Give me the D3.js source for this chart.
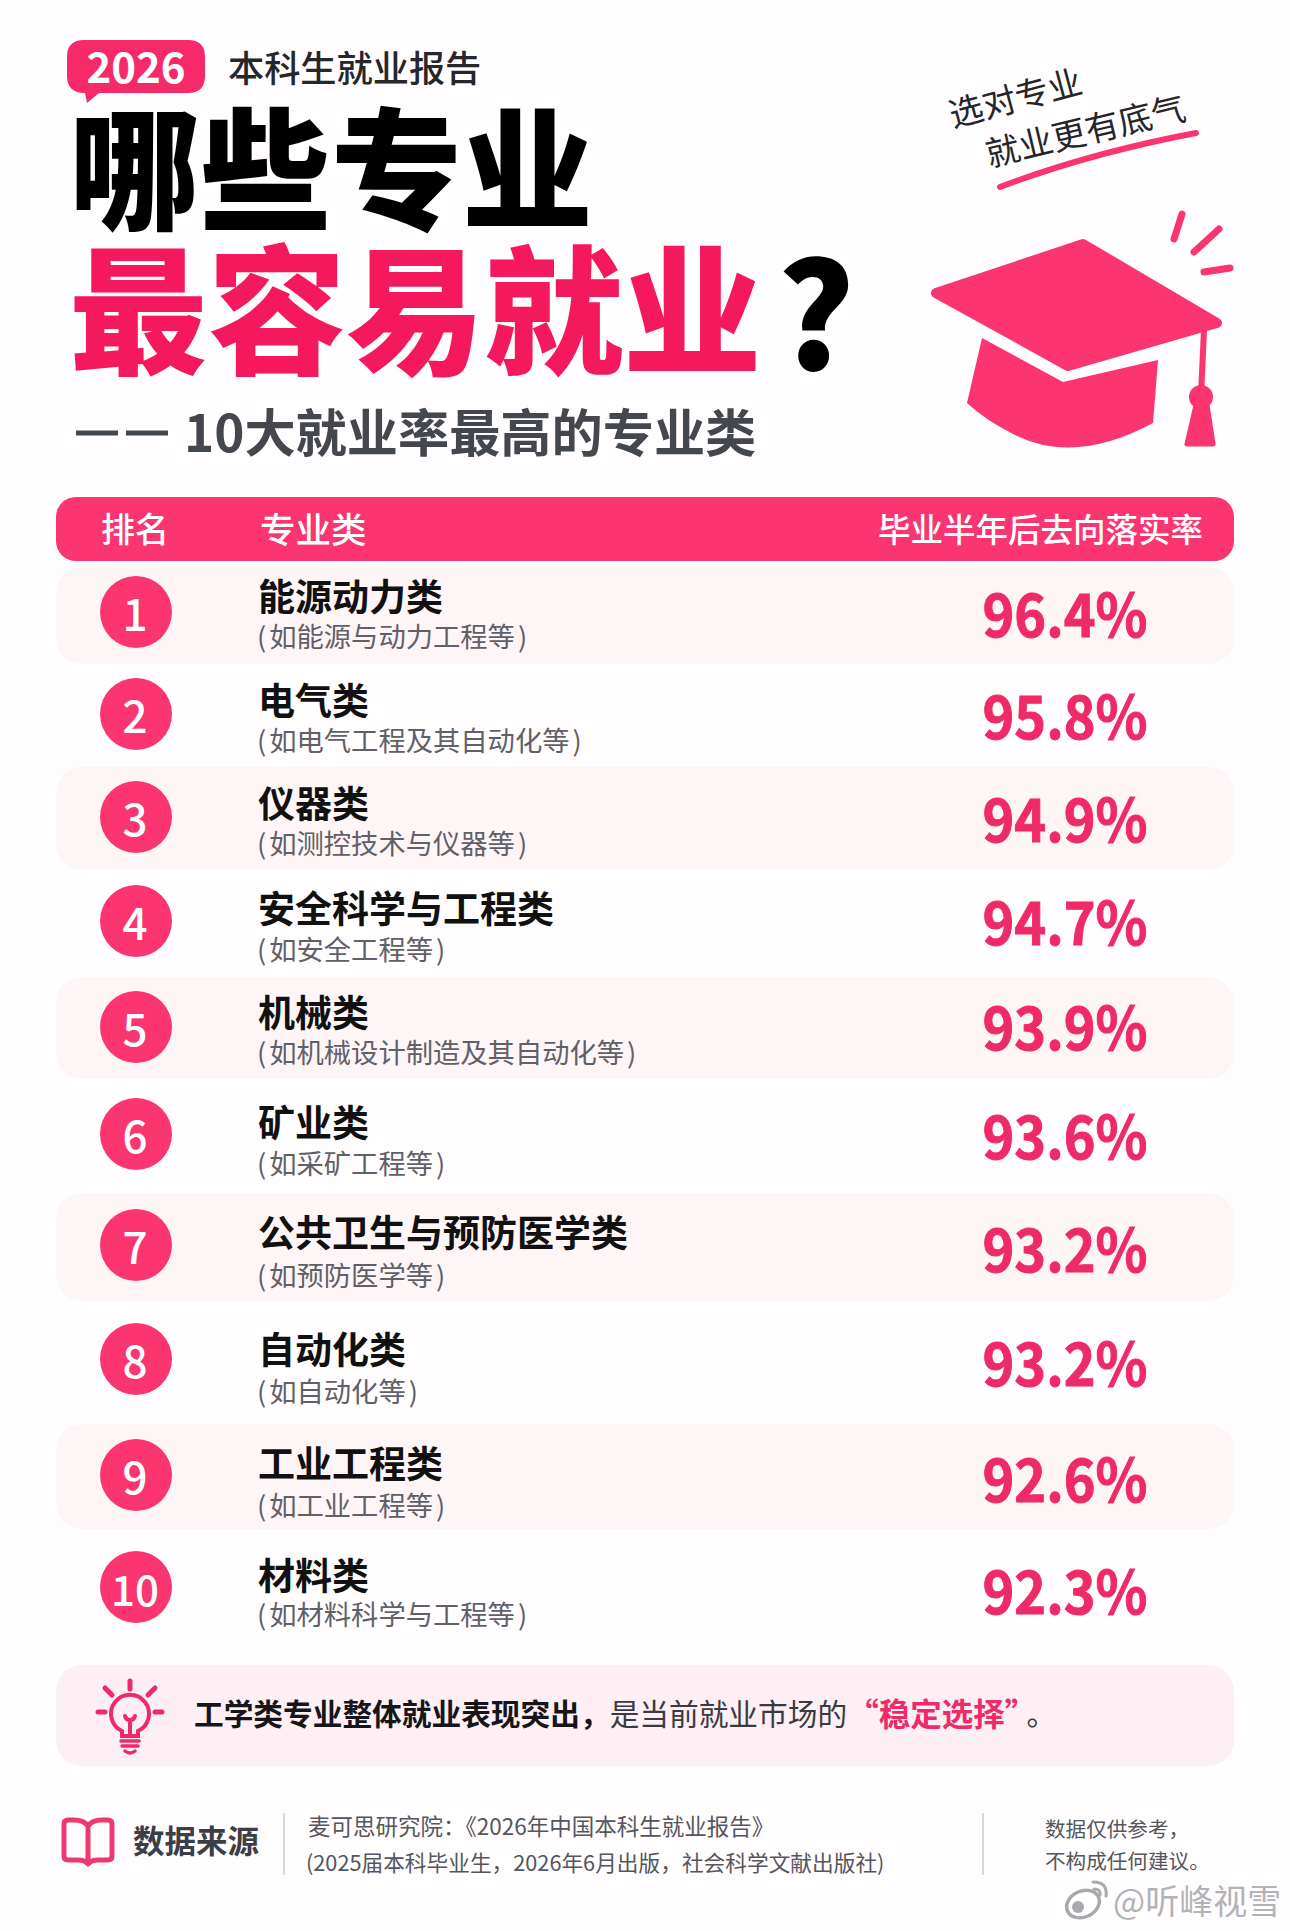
<!DOCTYPE html>
<html>
<head>
<meta charset="utf-8">
<script src="https://cdn.jsdelivr.net/npm/d3@7"></script>
<style>
  html, body { margin: 0; padding: 0; background: #fffdfd; }
  svg { display: block; }
  text { font-family: "Noto Sans CJK SC", "Noto Sans", sans-serif; }
</style>
</head>
<body>
<svg id="chart"></svg>
<script>
// values
const ranks = [1, 2, 3, 4, 5, 6, 7, 8, 9, 10];
const majors = ["能源动力类", "电气类", "仪器类", "安全科学与工程类", "机械类", "矿业类", "公共卫生与预防医学类", "自动化类", "工业工程类", "材料类"];
const examples = ["如能源与动力工程等", "如电气工程及其自动化等", "如测控技术与仪器等", "如安全工程等", "如机械设计制造及其自动化等", "如采矿工程等", "如预防医学等", "如自动化等", "如工业工程等", "如材料科学与工程等"];
const rates = [96.4, 95.8, 94.9, 94.7, 93.9, 93.6, 93.2, 93.2, 92.6, 92.3];
const columnLabels = ["排名", "专业类", "毕业半年后去向落实率"];

const width = 1290;
const height = 1931;
const pink = "#fa3570";
const rose = "#ee2a68";

const svg = d3.select("#chart").attr("width", width).attr("height", height).attr("viewBox", [0, 0, width, height]);

// rows are not evenly spaced in the original, so ordinal scales hold the positions
const y = d3.scaleOrdinal().domain(ranks).range([612, 714, 817, 921, 1027, 1134, 1245, 1359, 1475, 1587]);
const nameY = d3.scaleOrdinal().domain(ranks).range([595, 699, 802, 907, 1011, 1121, 1231, 1348, 1462, 1574]);
const subY = d3.scaleOrdinal().domain(ranks).range([635, 739, 842, 948, 1051, 1162, 1274, 1390, 1504, 1613]);
const rateY = d3.scaleOrdinal().domain(ranks).range([611, 713, 816, 919, 1024, 1133, 1246, 1360, 1476, 1588]);
const bandTop = d3.scaleOrdinal().domain(ranks).range([567, 0, 767, 0, 977, 0, 1193, 0, 1424, 0]);
const bandHeight = d3.scaleOrdinal().domain(ranks).range([97, 0, 103, 0, 102, 0, 108, 0, 105, 0]);

const fmt = d => d3.format(".1f")(d) + "%";

// ---- heading
const head = svg.append("g");
head.append("path")
  .attr("fill", "#f62a68")
  .attr("d", "M84,40 H188 Q205,40 205,57 V76 Q205,93 188,93 H99 L87,103 L85,93 Q67,93 67,76 V57 Q67,40 84,40 Z");
head.append("text").attr("x", 136).attr("y", 64.5).attr("text-anchor", "middle").attr("dominant-baseline", "central")
  .attr("font-size", 42).attr("font-weight", 700).attr("fill", "#fff").text("2026");
head.append("text").attr("x", 228).attr("y", 66).attr("dominant-baseline", "central")
  .attr("font-size", 36.2).attr("font-weight", 500).attr("fill", "#26262b").text("本科生就业报告");

head.append("text").attr("x", 69).attr("y", 219)
  .attr("font-size", 131).attr("font-weight", 900).attr("fill", "#000").text("哪些专业");
head.append("text").attr("x", 69).attr("y", 363)
  .attr("font-size", 138.5).attr("font-weight", 900).attr("fill", "#f4185c").text("最容易就业");
head.append("text").attr("x", 816).attr("y", 370).attr("text-anchor", "middle")
  .attr("font-size", 146).attr("font-weight", 900).attr("fill", "#000").text("?");

head.append("path").attr("stroke", "#45474f").attr("stroke-width", 5).attr("fill", "none").attr("d", "M76,433 H118 M126,433 H168");
head.append("text").attr("x", 184).attr("y", 430).attr("dominant-baseline", "central")
  .attr("font-size", 51.2).attr("font-weight", 700).attr("fill", "#45474f").text("10大就业率最高的专业类");

// ---- slogan and cap
const slogan = svg.append("g");
slogan.append("text").attr("transform", "translate(1015,96) rotate(-15)").attr("text-anchor", "middle").attr("dominant-baseline", "central")
  .attr("font-size", 34).attr("fill", "#26262a").text("选对专业");
slogan.append("text").attr("transform", "translate(1085,129) rotate(-13.5)").attr("text-anchor", "middle").attr("dominant-baseline", "central")
  .attr("font-size", 34).attr("fill", "#26262a").text("就业更有底气");
slogan.append("path").attr("fill", "none").attr("stroke", pink).attr("stroke-width", 6).attr("stroke-linecap", "round")
  .attr("d", "M1000,187 Q1090,153 1196,133");

const cap = svg.append("g").attr("fill", pink);
cap.append("path").attr("stroke", pink).attr("stroke-width", 10).attr("stroke-linejoin", "round")
  .attr("d", "M936,293 L1083,244 L1217,323 L1068,366 Z");
cap.append("path").attr("d", "M982,338 L1063,382 L1158,360 L1153,423 Q1075,465 1015,435 Q985,420 967,403 Z");
cap.append("path").attr("stroke", pink).attr("stroke-width", 6).attr("fill", "none").attr("d", "M1204,330 L1201,395");
cap.append("circle").attr("cx", 1201).attr("cy", 397).attr("r", 12);
cap.append("path").attr("stroke", pink).attr("stroke-width", 5).attr("stroke-linejoin", "round")
  .attr("d", "M1196,405 L1187,444 H1213 L1207,405 Z");
cap.append("path").attr("fill", "none").attr("stroke", pink).attr("stroke-width", 7).attr("stroke-linecap", "round")
  .attr("d", "M1182,214 L1174,239 M1219,229 L1194,252 M1204,272 L1230,268");

// ---- table
svg.append("rect").attr("x", 56).attr("y", 497).attr("width", 1178).attr("height", 64).attr("rx", 20).attr("fill", pink);
svg.selectAll(".col").data(columnLabels).join("text")
  .attr("class", "col")
  .attr("x", (d, i) => [101, 260, 878][i])
  .attr("y", 527)
  .attr("dominant-baseline", "central")
  .attr("font-size", (d, i) => [34, 35.5, 32.5][i])
  .attr("font-weight", 500)
  .attr("fill", "#fff")
  .text(d => d);

const shaded = ranks.filter(d => d % 2 == 1);
svg.selectAll(".band").data(shaded).join("rect")
  .attr("class", "band")
  .attr("x", 56).attr("width", 1178).attr("rx", 26)
  .attr("y", d => bandTop(d))
  .attr("height", d => bandHeight(d))
  .attr("fill", "#fef5f7");

const row = svg.selectAll(".row").data(ranks).join("g").attr("class", "row");
row.append("circle").attr("cx", 136).attr("cy", d => y(d)).attr("r", 36).attr("fill", pink);
row.append("text").attr("x", 135).attr("y", d => y(d)).attr("text-anchor", "middle").attr("dominant-baseline", "central")
  .attr("font-size", d => d == 10 ? 42 : 44).attr("font-weight", 500).attr("fill", "#fff").text(d => d);
row.append("text").attr("x", 258).attr("y", d => nameY(d)).attr("dominant-baseline", "central")
  .attr("font-size", 37).attr("font-weight", 700).attr("fill", "#111").text((d, i) => majors[i]);
const sub = row.append("text").attr("x", 257).attr("y", d => subY(d)).attr("dominant-baseline", "central")
  .attr("font-size", 27.3).attr("fill", "#5f6068");
sub.append("tspan").text("(");
sub.append("tspan").attr("dx", 3).text((d, i) => examples[i]);
sub.append("tspan").attr("dx", 3).text(")");
row.append("text").attr("x", 1065).attr("y", d => rateY(d)).attr("text-anchor", "middle").attr("dominant-baseline", "central")
  .attr("font-size", 59).attr("font-weight", 700).attr("fill", rose)
  .attr("stroke", rose).attr("stroke-width", 1)
  .attr("textLength", 165).attr("lengthAdjust", "spacingAndGlyphs").text((d, i) => fmt(rates[i]));

// ---- takeaway
svg.append("rect").attr("x", 56).attr("y", 1665).attr("width", 1178).attr("height", 101).attr("rx", 26).attr("fill", "#fdeff3");
const bulb = svg.append("g").attr("fill", "none").attr("stroke", rose).attr("stroke-width", 4).attr("stroke-linecap", "round");
bulb.append("path").attr("d", "M122,1736 V1731 A19,19 0 1 1 138,1731 V1736 Z");
bulb.append("path").attr("d", "M130,1736 V1720 M125,1716 Q126,1720 130,1720 Q134,1720 135,1716");
bulb.append("path").attr("stroke-width", 3.5).attr("d", "M121,1741 H139 M122,1746 H138 M125,1751 Q130,1755 135,1751");
bulb.append("path").attr("stroke-width", 5).attr("d", "M130,1681 V1689 M105,1688 L112,1695 M155,1688 L148,1695 M98,1712 H105 M155,1712 H162");

const take = svg.append("text").attr("x", 194).attr("y", 1712).attr("dominant-baseline", "central").attr("font-size", 29.7);
take.append("tspan").attr("font-weight", 700).attr("fill", "#16161a").text("工学类专业整体就业表现突出，");
take.append("tspan").attr("fill", "#3a3b42").text("是当前就业市场的");
take.append("tspan").attr("font-weight", 700).attr("font-size", 31.5).attr("fill", rose).text("“稳定选择”");
take.append("tspan").attr("fill", "#3a3b42").attr("dx", 6).text("。");

// ---- source
const foot = svg.append("g");
foot.append("path").attr("fill", "none").attr("stroke", "#ec3a70").attr("stroke-width", 5).attr("stroke-linejoin", "round")
  .attr("d", "M88,1826 Q84,1820 74,1820 H68 Q64,1820 64,1824 V1856 Q64,1860 68,1860 H78 Q85,1860 88,1864 Q91,1860 98,1860 H108 Q112,1860 112,1856 V1824 Q112,1820 108,1820 H102 Q92,1820 88,1826 Z M88,1826 V1862");
foot.append("text").attr("x", 133).attr("y", 1839).attr("dominant-baseline", "central")
  .attr("font-size", 31.5).attr("font-weight", 700).attr("fill", "#3d3e45").text("数据来源");
foot.append("path").attr("stroke", "#c9c9cc").attr("stroke-width", 1.5).attr("d", "M284,1813 V1875 M983,1813 V1875");
foot.append("text").attr("x", 308).attr("y", 1825).attr("dominant-baseline", "central")
  .attr("font-size", 22.5).attr("fill", "#55565d").text("麦可思研究院：《2026年中国本科生就业报告》");
foot.append("text").attr("x", 306).attr("y", 1861).attr("dominant-baseline", "central")
  .attr("font-size", 21.7).attr("fill", "#55565d").text("(2025届本科毕业生，2026年6月出版，社会科学文献出版社)");
foot.append("text").attr("x", 1045).attr("y", 1828).attr("dominant-baseline", "central")
  .attr("font-size", 20.6).attr("fill", "#55565d").text("数据仅供参考，");
foot.append("text").attr("x", 1045).attr("y", 1860).attr("dominant-baseline", "central")
  .attr("font-size", 20.6).attr("fill", "#55565d").text("不构成任何建议。");

// ---- watermark
const mark = svg.append("g").attr("fill", "none").attr("stroke", "#a9a9ad");
mark.append("ellipse").attr("cx", 1083).attr("cy", 1904).attr("rx", 17).attr("ry", 13).attr("transform", "rotate(-25,1083,1904)")
  .attr("fill", "#fff").attr("stroke-width", 3.5);
mark.append("circle").attr("cx", 1078).attr("cy", 1907).attr("r", 6).attr("fill", "#a9a9ad").attr("stroke", "none");
mark.append("path").attr("stroke-width", 3).attr("stroke-linecap", "round").attr("d", "M1093,1882 Q1108,1882 1106,1896 M1094,1889 Q1101,1889 1100,1895");
mark.append("text").attr("x", 1113).attr("y", 1899).attr("dominant-baseline", "central")
  .attr("font-size", 34).attr("fill", "#b3b3b7").attr("stroke", "#fff").attr("stroke-width", 2).attr("paint-order", "stroke").text("@听峰视雪");
</script>
</body>
</html>
